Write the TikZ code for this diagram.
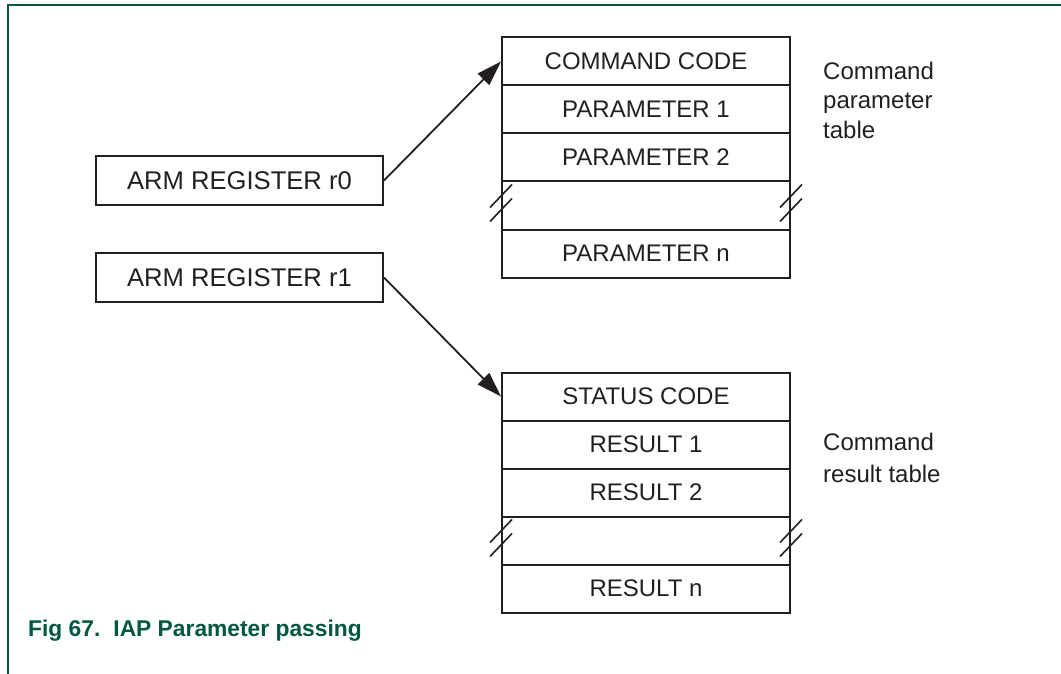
\documentclass[tikz,border=0pt]{standalone}
\usepackage{fontspec}
\setmainfont{Liberation Sans}
\usetikzlibrary{arrows.meta}
\definecolor{nxpgreen}{RGB}{0,88,66}
\definecolor{ink}{RGB}{35,31,32}
\tikzset{
  frameline/.style={draw=nxpgreen,line width=2pt},
  regbox/.style={draw=ink,line width=2pt,minimum width=287pt,minimum height=49pt,inner sep=0pt,font=\fontsize{25.6}{29}\selectfont,text=ink},
  row/.style={draw=ink,line width=2pt,minimum width=288pt,minimum height=48pt,inner sep=0pt,font=\fontsize{24}{28}\selectfont,text=ink},
  ptr/.style={draw=ink,line width=1.8pt,-{Triangle[length=25pt,width=16pt]}},
  brk/.style={draw=ink,line width=1.6pt},
  sidelabel/.style={align=left,inner sep=0pt,anchor=north west,text=ink},
  caption/.style={anchor=base west,inner sep=0pt,text=nxpgreen,font=\fontsize{22.8}{26}\selectfont\bfseries}
}
\begin{document}
\begin{tikzpicture}[x=1pt,y=-1pt]
\useasboundingbox (0,0) rectangle (1061,674);
% frame
\draw[frameline] (7,5) -- (1061,5);
\draw[frameline] (8,4) -- (8,674);

% registers
\node[regbox] (r0) at (239.5,180.5) {ARM REGISTER r0};
\node[regbox] (r1) at (239.5,277.5) {ARM REGISTER r1};

% parameter table
\node[row] (cc) at (646,61.5)  {COMMAND CODE};
\node[row] (p1) at (646,109.5) {PARAMETER 1};
\node[row] (p2) at (646,157.5) {PARAMETER 2};
\node[row] (pg) at (646,205.5) {};
\node[row] (pn) at (646,253.5) {PARAMETER n};

% result table
\node[row] (sc) at (646,396.5) {STATUS CODE};
\node[row] (s1) at (646,444.5) {RESULT 1};
\node[row] (s2) at (646,492.5) {RESULT 2};
\node[row] (sg) at (646,540.5) {};
\node[row] (sn) at (646,588.5) {RESULT n};

% break marks
\foreach \g in {pg,sg}{
  \draw[brk] ([shift={(-11pt,-27pt)}]\g.north west) -- ([shift={(11pt,-4pt)}]\g.north west);
  \draw[brk] ([shift={(-11pt,-41pt)}]\g.north west) -- ([shift={(11pt,-18pt)}]\g.north west);
  \draw[brk] ([shift={(-11pt,-27pt)}]\g.north east) -- ([shift={(11pt,-4pt)}]\g.north east);
  \draw[brk] ([shift={(-11pt,-41pt)}]\g.north east) -- ([shift={(11pt,-18pt)}]\g.north east);
}

% pointers
\draw[ptr] (r0.east) -- (cc.west);
\draw[ptr] (r1.east) -- (sc.west);

% side labels
\node[sidelabel,font=\fontsize{24}{29.5}\selectfont] (plab) at (823,61.5) {Command\\parameter\\table};
\node[sidelabel,font=\fontsize{24}{32.5}\selectfont] (rlab) at (823,432.7) {Command\\result table};

% caption
\node[caption] (cap) at (28,636) {Fig 67.\hspace{13pt}IAP Parameter passing};
\end{tikzpicture}
\end{document}
